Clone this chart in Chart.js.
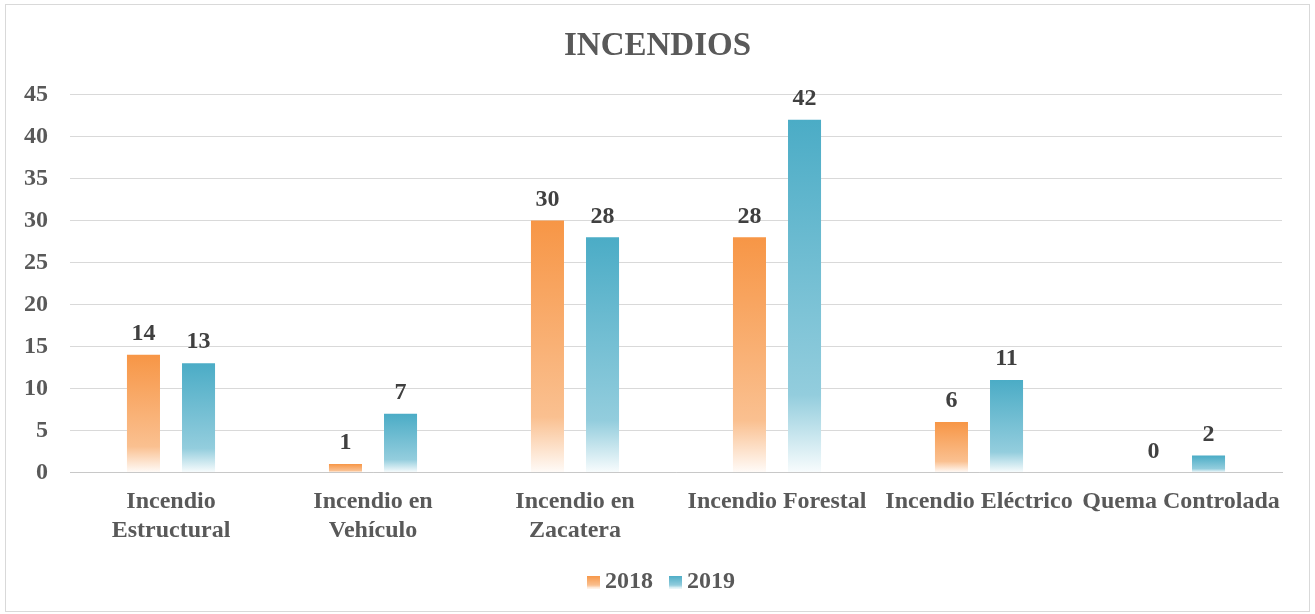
<!DOCTYPE html>
<html>
<head>
<meta charset="utf-8">
<script src="https://cdn.jsdelivr.net/npm/chart.js@4/dist/chart.umd.min.js"></script>
<style>
html,body{margin:0;padding:0;background:#fff;}
#wrap{position:relative;width:1315px;height:614px;}
</style>
</head>
<body>
<div id="wrap"><canvas id="c" width="1315" height="614"></canvas></div>
<script>
const categories = [['Incendio','Estructural'], ['Incendio en','Vehículo'], ['Incendio en','Zacatera'], 'Incendio Forestal', 'Incendio Eléctrico', 'Quema Controlada'];
const seriesNames = ['2018', '2019'];
const values2018 = [14, 1, 30, 28, 6, 0];
const values2019 = [13, 7, 28, 42, 11, 2];
const yTicks = [0, 5, 10, 15, 20, 25, 30, 35, 40, 45];

const FONT = "'Liberation Serif', 'Times New Roman', serif";
const colors = [[247,150,70],[75,172,198]];

function tint(rgb, a){
  return 'rgb(' + rgb.map(c => Math.round(255 - a * (255 - c))).join(',') + ')';
}

function gradFill(rgb){
  return function(ctx){
    const chart = ctx.chart;
    const ys = chart.scales && chart.scales.y;
    if (!ys || !chart.chartArea || ctx.type !== 'data') return tint(rgb, 1);
    const v = ctx.raw;
    const top = ys.getPixelForValue(v);
    const base = ys.getPixelForValue(0);
    if (!isFinite(top) || !isFinite(base) || Math.abs(base-top) < 1) return tint(rgb, 1);
    const g = chart.ctx.createLinearGradient(0, top, 0, base);
    g.addColorStop(0, tint(rgb, 1));
    g.addColorStop(0.78, tint(rgb, 0.6));
    g.addColorStop(1, tint(rgb, 0.04));
    return g;
  };
}

function legendIcon(rgb){
  const c = document.createElement('canvas');
  c.width = 27; c.height = 13;
  const x = c.getContext('2d');
  const g = x.createLinearGradient(0,0,0,13);
  g.addColorStop(0, tint(rgb, 1));
  g.addColorStop(0.75, tint(rgb, 0.6));
  g.addColorStop(1, tint(rgb, 0.05));
  x.fillStyle = g; x.fillRect(14,0,13,13);
  return c;
}

const borderPlugin = {
  id: 'border',
  beforeDraw(chart){
    const c = chart.ctx;
    c.save();
    c.fillStyle = '#fff';
    c.fillRect(0,0,chart.width,chart.height);
    c.strokeStyle = '#d9d9d9';
    c.lineWidth = 1;
    c.strokeRect(5.5, 4.5, 1304, 607);
    c.restore();
  }
};

const labelPlugin = {
  id: 'vlabels',
  afterDatasetsDraw(chart){
    const c = chart.ctx;
    c.save();
    c.font = `bold 24px ${FONT}`;
    c.fillStyle = '#404040';
    c.textAlign = 'center';
    c.textBaseline = 'bottom';
    chart.data.datasets.forEach((ds, di) => {
      const meta = chart.getDatasetMeta(di);
      meta.data.forEach((el, i) => {
        c.fillText(String(ds.data[i]), el.x, el.y - 9);
      });
    });
    c.restore();
  }
};

new Chart(document.getElementById('c'), {
  type: 'bar',
  data: {
    labels: categories,
    datasets: [
      { label: seriesNames[0], data: values2018, backgroundColor: gradFill(colors[0]), pointStyle: legendIcon(colors[0]) },
      { label: seriesNames[1], data: values2019, backgroundColor: gradFill(colors[1]), pointStyle: legendIcon(colors[1]) }
    ]
  },
  options: {
    responsive: false,
    animation: false,
    devicePixelRatio: 1,
    categoryPercentage: 0.545,
    barPercentage: 0.6,
    layout: { padding: { top: 14, left: 33, right: 33, bottom: 10 } },
    plugins: {
      title: {
        display: true,
        text: 'INCENDIOS',
        color: '#595959',
        font: { family: FONT, size: 33, weight: 'bold' },
        padding: { top: 13, bottom: 28 }
      },
      legend: {
        position: 'bottom',
        labels: {
          usePointStyle: true,
          color: '#595959',
          font: { family: FONT, size: 24, weight: 'bold' },
          boxWidth: 13, boxHeight: 13,
          padding: 9
        }
      },
      tooltip: { enabled: false }
    },
    scales: {
      x: {
        afterFit(axis){ axis.height += 9; },
        grid: { display: false },
        border: { color: '#c8c8c8', width: 1 },
        ticks: {
          color: '#595959',
          font: { family: FONT, size: 24, weight: 'bold' },
          maxRotation: 0, autoSkip: false, padding: 7
        }
      },
      y: {
        min: 0, max: 45,
        afterBuildTicks(axis){ axis.ticks = yTicks.map(v => ({ value: v })); },
        afterFit(axis){ axis.width = 37; },
        grid: { color: '#d9d9d9', drawTicks: false },
        border: { display: false },
        ticks: {
          color: '#595959',
          font: { family: FONT, size: 24, weight: 'bold' },
          mirror: true,
          crossAlign: 'far',
          padding: -46
        }
      }
    }
  },
  plugins: [borderPlugin, labelPlugin]
});
</script>
</body>
</html>
